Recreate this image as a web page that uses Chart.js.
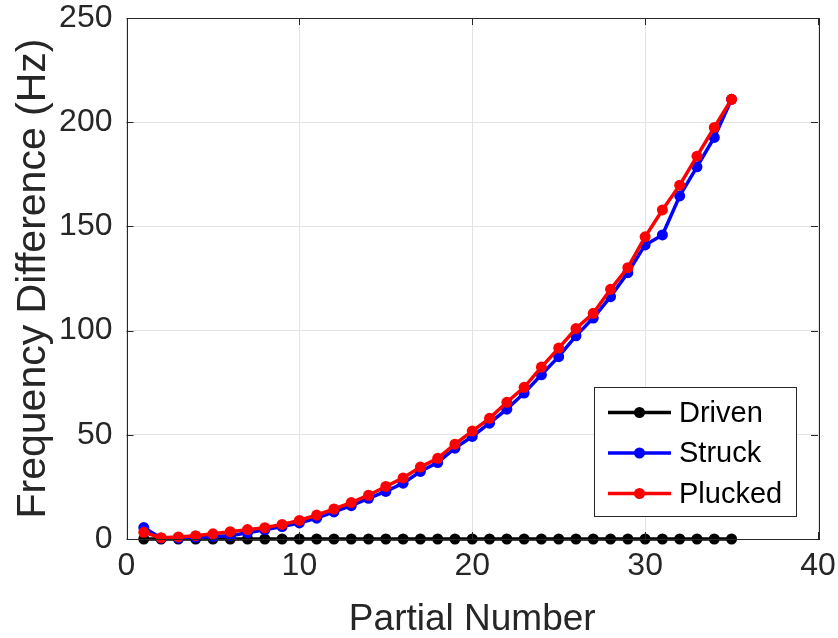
<!DOCTYPE html>
<html>
<head>
<meta charset="utf-8">
<script src="https://cdn.jsdelivr.net/npm/chart.js@4/dist/chart.umd.min.js"></script>
<style>
html,body{margin:0;padding:0;background:#fff;}
#wrap{width:838px;height:638px;position:relative;}
</style>
</head>
<body>
<div id="wrap"><canvas id="c" width="838" height="638"></canvas></div>
<script>
const partials = [1,2,3,4,5,6,7,8,9,10,11,12,13,14,15,16,17,18,19,20,21,22,23,24,25,26,27,28,29,30,31,32,33,34,35];
const driven = [0,0,0,0,0,0,0,0,0,0,0,0,0,0,0,0,0,0,0,0,0,0,0,0,0,0,0,0,0,0,0,0,0,0,0];
const struck = [5.5,0.4,0.4,0.8,1.2,1.6,3,4.4,6,7.7,10,13,16,19.5,22.8,26.8,32.4,36.7,43.6,49.2,55.6,62.3,70,78.8,87.5,97.5,106,116.3,127.8,141.1,145.9,164.6,178.6,192.7,211];
const plucked = [3.2,0.6,1,1.6,2.5,3.5,4.5,5.4,7,8.9,11.5,14.4,17.5,21,25.2,29.3,34.5,38.7,45.5,51.8,57.9,65.6,72.8,82.5,91.6,101,108.3,119.8,130.2,145,157.9,169.8,183.7,197.5,211];
const xTicks = [0,10,20,30,40];
const yTicks = [0,50,100,150,200,250];
const seriesNames = ['Driven','Struck','Plucked'];
const seriesColors = ['#000000','#0000ff','#ff0000'];

const FONT = "'Liberation Sans', Arial, sans-serif";
const TXT = '#262626';

function pts(arr){ return partials.map((p,i)=>({x:p,y:arr[i]})); }

const boxPlugin = {
  id:'boxPlugin',
  afterDraw(chart){
    const ctx = chart.ctx, a = chart.chartArea;
    const xs = chart.scales.x, ys = chart.scales.y;
    ctx.save();
    ctx.strokeStyle = '#262626';
    ctx.lineWidth = 1;
    ctx.strokeRect(Math.round(a.left)+0.5, Math.round(a.top)+0.5, Math.round(a.right-a.left), Math.round(a.bottom-a.top));
    const tl = 7;
    ctx.beginPath();
    xTicks.forEach(v=>{
      const px = Math.round(xs.getPixelForValue(v))+0.5;
      ctx.moveTo(px,a.bottom); ctx.lineTo(px,a.bottom-tl);
      ctx.moveTo(px,a.top); ctx.lineTo(px,a.top+tl);
    });
    yTicks.forEach(v=>{
      const py = Math.round(ys.getPixelForValue(v))+0.5;
      ctx.moveTo(a.left,py); ctx.lineTo(a.left+tl,py);
      ctx.moveTo(a.right,py); ctx.lineTo(a.right-tl,py);
    });
    ctx.stroke();
    // legend
    const lx = 594.5, ly = 387.5, lw = 202, lh = 129;
    ctx.fillStyle = '#ffffff';
    ctx.fillRect(lx,ly,lw,lh);
    ctx.strokeStyle = '#262626';
    ctx.strokeRect(lx,ly,lw,lh);
    const rows = [412.5, 453, 493.5];
    ctx.font = '29px ' + FONT;
    ctx.textBaseline = 'middle';
    ctx.textAlign = 'left';
    seriesNames.forEach((n,i)=>{
      ctx.strokeStyle = seriesColors[i];
      ctx.lineWidth = 3.5;
      ctx.beginPath(); ctx.moveTo(608,rows[i]); ctx.lineTo(671,rows[i]); ctx.stroke();
      ctx.fillStyle = seriesColors[i];
      ctx.beginPath(); ctx.arc(639.5,rows[i],5.5,0,Math.PI*2); ctx.fill();
      ctx.fillStyle = '#000';
      ctx.fillText(n, 679, rows[i]+1);
    });
    ctx.restore();
  }
};

const mk = (i,arr,order)=>({
  label: seriesNames[i],
  data: pts(arr),
  borderColor: seriesColors[i],
  backgroundColor: seriesColors[i],
  pointBackgroundColor: seriesColors[i],
  pointBorderColor: seriesColors[i],
  borderWidth: 3.5,
  pointRadius: 5.5,
  pointBorderWidth: 0,
  tension: 0,
  clip: false,
  order: order
});

new Chart(document.getElementById('c'), {
  type: 'line',
  data: { datasets: [ mk(0,driven,3), mk(1,struck,2), mk(2,plucked,1) ] },
  options: {
    responsive: false,
    animation: false,
    layout: { padding: { top: 18, right: 20, left: 0, bottom: 0 } },
    plugins: { legend: { display: false }, tooltip: { enabled: false } },
    scales: {
      x: {
        type: 'linear', min: 0, max: 40,
        afterBuildTicks(s){ s.ticks = xTicks.map(v=>({value:v})); },
        afterFit(s){ s.height = 99; s.paddingLeft = 0; s.paddingRight = 0; },
        grid: { color: '#e3e3e3', lineWidth: 1, drawTicks: false },
        border: { display: false },
        ticks: { font: { family: FONT, size: 32 }, color: TXT, padding: 8, maxRotation: 0 },
        title: { display: true, text: 'Partial Number', font: { family: FONT, size: 37, lineHeight: 1 }, color: TXT, padding: { top: 2, bottom: 0 } }
      },
      y: {
        type: 'linear', min: 0, max: 250,
        afterBuildTicks(s){ s.ticks = yTicks.map(v=>({value:v})); },
        afterFit(s){ s.width = 126.5; s.paddingTop = 0; s.paddingBottom = 0; },
        grid: { color: '#e3e3e3', lineWidth: 1, drawTicks: false },
        border: { display: false },
        ticks: { font: { family: FONT, size: 32 }, color: TXT, padding: 14 },
        title: { display: true, text: 'Frequency Difference (Hz)', font: { family: FONT, size: 41, lineHeight: 1 }, color: TXT, padding: { top: 13, bottom: 0 } }
      }
    }
  },
  plugins: [boxPlugin]
});
</script>
</body>
</html>
